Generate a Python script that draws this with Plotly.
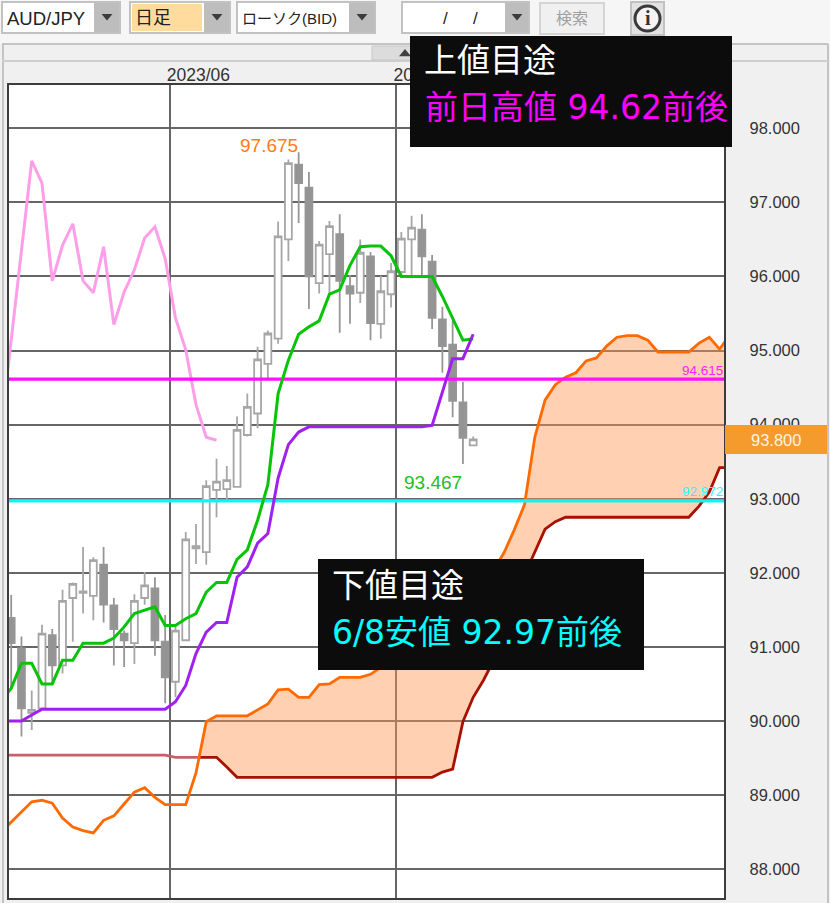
import plotly.graph_objects as go

W, H = 830, 903

# ---------- data ----------
candle_idx = list(range(0, 46))
opens = [91.39,90.98,90.11,90.17,91.16,90.75,91.66,91.73,91.69,92.11,91.56,91.18,91.05,91.66,91.79,91.07,90.53,91.09,92.33,92.28,93.12,93.13,93.16,
         93.86,94.15,94.82,95.16,96.50,97.51,97.20,95.91,96.30,96.57,95.87,95.78,96.27,95.36,95.76,96.06,96.50,96.63,96.20,95.42,95.08,94.30,93.72]
highs = [91.70,91.14,90.41,91.30,91.24,91.77,91.87,92.35,92.21,92.35,91.66,91.22,91.71,92.01,91.94,91.43,91.31,92.55,92.66,93.25,93.54,93.44,94.11,
         94.42,95.05,95.27,96.74,97.58,97.675,97.41,96.48,96.75,96.84,96.02,96.50,96.33,96.01,96.18,96.60,96.82,96.84,96.29,95.59,95.41,94.58,93.84]
lows = [90.42,89.79,89.88,90.15,90.50,90.64,91.07,91.45,91.36,91.33,90.75,90.73,90.77,91.57,90.88,90.24,90.32,91.09,92.12,92.11,92.75,92.98,93.15,
        93.84,93.95,94.60,95.09,96.21,96.72,95.56,95.77,95.76,95.24,95.36,95.64,95.14,95.16,95.58,96.00,96.02,96.00,95.29,94.70,94.10,93.467,93.71]
closes = [91.05,90.17,90.15,91.18,90.75,91.62,91.85,91.75,92.17,91.57,91.24,91.09,91.62,91.83,91.09,90.59,91.22,92.45,92.36,93.17,93.23,93.25,93.93,
          94.24,94.88,95.23,96.54,97.53,97.26,96.00,96.43,96.68,95.94,95.77,96.32,95.37,95.80,96.07,96.51,96.66,96.27,95.44,95.06,94.32,93.82,93.80]

conversion_idx = list(range(-1, 46))
conversion = [90.28,90.44,90.78,90.78,90.50,90.50,90.82,90.82,91.05,91.05,91.05,91.12,91.27,91.45,91.49,91.54,91.29,91.29,91.38,91.45,91.74,91.87,91.87,
              92.18,92.31,92.71,93.19,94.42,94.87,95.22,95.32,95.40,95.76,95.82,96.15,96.40,96.41,96.41,96.28,96.00,96.00,96.00,96.00,95.73,95.43,95.14,95.16]
base = [90.00,90.00,90.00,90.08,90.16,90.16,90.16,90.16,90.16,90.16,90.16,90.16,90.16,90.16,90.16,90.16,90.16,90.26,90.48,90.91,91.20,91.33,91.33,
        91.94,92.08,92.40,92.53,93.28,93.73,93.90,93.97,93.97,93.97,93.97,93.97,93.97,93.97,93.97,93.97,93.97,93.97,93.97,93.99,94.44,94.89,94.89,95.22]

lag_idx = list(range(-1, 21))
lag = [93.93,95.12,96.33,97.56,97.26,95.94,96.42,96.71,95.94,95.78,96.40,95.35,95.79,96.09,96.52,96.67,96.24,95.44,95.01,94.27,93.83,93.79]

span_idx = list(range(-1, 71))
span_a = [88.50,88.64,88.77,88.91,88.93,88.89,88.69,88.57,88.52,88.49,88.66,88.72,88.88,89.04,89.10,88.97,88.87,88.87,88.87,89.30,89.99,90.07,90.07,90.07,90.07,
          90.15,90.23,90.42,90.43,90.32,90.32,90.49,90.50,90.59,90.59,90.59,90.63,90.72,90.82,90.89,90.96,91.09,91.23,91.36,91.50,91.63,91.77,91.90,92.04,
          92.27,92.58,92.92,93.83,94.33,94.54,94.64,94.70,94.86,94.90,95.06,95.18,95.20,95.20,95.14,94.98,94.98,94.98,94.98,95.10,95.18,95.02,95.21]
span_b = [89.54]*17 + [89.51]*5 + [89.38] + [89.24]*20 + [89.31,89.35,89.99,90.32,90.55,90.82,91.23,91.63,91.97,92.28,92.59,92.69] + [92.75]*13 + [92.90,93.09,93.42,93.42]

resistance = 94.615
support = 92.972
last_price = 93.800
level_x = [-1, 70]
month_pos = [15.43, 37.52]
month_labels = ["2023/06", "2023/07"]
price_ticks = [88, 89, 90, 91, 92, 93, 94, 95, 96, 97, 98]

assert len(span_a) == len(span_idx) and len(span_b) == len(span_idx)
assert len(conversion) == len(conversion_idx) and len(base) == len(conversion_idx)
assert len(lag) == len(lag_idx)
assert len(opens) == len(highs) == len(lows) == len(closes) == len(candle_idx)

# ---------- page geometry helpers ----------
def px(x):
    return x / W
def py(y):
    return 1 - y / H

shapes, notes = [], []
def rect(x0, y0, x1, y1, fill, line=None, lw=1, layer="below"):
    shapes.append(dict(type="rect", xref="paper", yref="paper", x0=px(x0), x1=px(x1), y0=py(y0), y1=py(y1),
                       fillcolor=fill, line=dict(color=line or fill, width=lw if line else 0), layer=layer))
def seg(x0, y0, x1, y1, color, lw=1, layer="below"):
    shapes.append(dict(type="line", xref="paper", yref="paper", x0=px(x0), x1=px(x1), y0=py(y0), y1=py(y1),
                       line=dict(color=color, width=lw), layer=layer))
def tri(cx, cy, s, color, up=False):
    d = -1 if up else 1
    path = f"M {px(cx-s)} {py(cy-d*s*0.55)} L {px(cx+s)} {py(cy-d*s*0.55)} L {px(cx)} {py(cy+d*s*0.65)} Z"
    shapes.append(dict(type="path", xref="paper", yref="paper", path=path, fillcolor=color, line=dict(width=0), layer="below"))
def text(x, y, s, size, color, anchor="left", family="DejaVu Sans, Noto Sans CJK JP"):
    notes.append(dict(xref="paper", yref="paper", x=px(x), y=py(y), text=s, showarrow=False, xanchor=anchor, yanchor="middle",
                      font=dict(size=size, color=color, family=family), borderpad=0, borderwidth=0))

UI = "Liberation Sans, Noto Sans CJK JP"

# toolbar band and panel frame
rect(0, 0, 830, 44, "#f6f6f6")
seg(2, 44, 828, 44, "#c4c4c4", 2)
seg(3, 44, 3, 903, "#c4c4c4", 2)
seg(828, 44, 828, 903, "#c4c4c4", 2)
seg(2, 61, 828, 61, "#cfcfcf", 2)
rect(372, 46, 412, 60, "#dcdcdc", "#c8c8c8", 1)
tri(405, 53, 6, "#404040", up=True)

def combo(x0, x1, btn, label_x, label, size, fill="#ffffff"):
    rect(x0, 2, x1, 33, "#ffffff", "#c2c2c2", 2)
    rect(x0 + 2, 4, btn - 2, 31, fill)
    rect(btn, 3, x1 - 1, 32, "#bdbdbd")
    tri((btn + x1) / 2, 17, 5.5, "#3c3c3c")
    if label:
        text(label_x, 18, label, size, "#222222", family=UI)

combo(2, 120, 94, 7, "AUD/JPY", 18.5, "#ffffff")
combo(130, 230, 204, 135, "日足", 18, "#ffdc9e")
combo(237, 375, 349, 242, "ローソク(BID)", 15)
combo(402, 529, 505, 0, "", 15)
text(445, 18, "/", 17, "#222222", "center", UI)
text(475, 18, "/", 17, "#222222", "center", UI)
shapes.append(dict(type="rect", xref="paper", yref="paper", x0=px(540), x1=px(604), y0=py(3), y1=py(34),
                   fillcolor="#f0f0f0", line=dict(color="#d4d4d4", width=2), layer="below"))
text(572, 18, "検索", 16, "#a0a0a0", "center", UI)
rect(631, 2, 664, 35, "#e2e2e2", "#c2c2c2", 2)
shapes.append(dict(type="circle", xref="paper", yref="paper", x0=px(635), x1=px(660), y0=py(6), y1=py(31),
                   fillcolor="#f4f4f4", line=dict(color="#3a3a3a", width=3), layer="below"))
text(647.5, 18, "<b>i</b>", 20, "#333333", "center", "Liberation Serif")

# current-price tag, drawn over the price axis
rect(725, 425, 827, 454, "#f59a2c", layer="above")
text(776, 440, "93.800", 16.5, "#fff3e0", "center", "Liberation Sans")

# value labels on the chart
text(269, 145, "97.675", 19, "#ff7a20", "center", "Liberation Sans")
text(433, 482, "93.467", 19, "#20c020", "center", "Liberation Sans")
text(723, 370, "94.615", 13.5, "#ff20ff", "right", "Liberation Sans")
text(723, 491, "92.972", 13.5, "#20ffff", "right", "Liberation Sans")

# callout boxes
rect(410, 36, 732, 147, "#0c0c0c", layer="above")
text(424.5, 61, "上値目途", 33, "#ffffff")
text(424.5, 107, "前日高値 94.62前後", 33, "#ff00ff")
rect(318, 559, 644, 670, "#0c0c0c", layer="above")
text(331.5, 585, "下値目途", 33, "#ffffff")
text(331.5, 632, "6/8安値 92.97前後", 33, "#00ffff")

# ---------- traces ----------
fig = go.Figure()

# cloud: filled only where span A runs above span B
cross = next(k for k in range(len(span_idx)) if span_a[k] >= span_b[k])
d0 = span_a[cross - 1] - span_b[cross - 1]
d1 = span_a[cross] - span_b[cross]
xc = span_idx[cross - 1] + (-d0) / (d1 - d0)
yc = span_b[cross - 1] + (span_b[cross] - span_b[cross - 1]) * (-d0) / (d1 - d0)
fig.add_trace(go.Scatter(x=[xc] + span_idx[cross:] + span_idx[cross:][::-1],
                         y=[yc] + span_a[cross:] + span_b[cross:][::-1],
                         mode="lines", fill="toself", fillcolor="rgba(255,150,85,0.45)",
                         line=dict(width=0), hoverinfo="skip"))

fig.add_trace(go.Candlestick(x=candle_idx, open=opens, high=highs, low=lows, close=closes,
                             increasing=dict(line=dict(color="#a6a6a6", width=1.8), fillcolor="#ffffff"),
                             decreasing=dict(line=dict(color="#969696", width=1.8), fillcolor="#949494"),
                             whiskerwidth=0))

fig.add_trace(go.Scatter(x=lag_idx, y=lag, mode="lines", line=dict(color="#ff9ee8", width=3)))
fig.add_trace(go.Scatter(x=span_idx[:cross] + [xc], y=span_b[:cross] + [yc], mode="lines", line=dict(color="#c8606a", width=2.8)))
fig.add_trace(go.Scatter(x=[xc] + span_idx[cross:], y=[yc] + span_b[cross:], mode="lines", line=dict(color="#a81000", width=2.8)))
fig.add_trace(go.Scatter(x=span_idx, y=span_a, mode="lines", line=dict(color="#ff6a00", width=2.8)))
fig.add_trace(go.Scatter(x=level_x, y=[resistance, resistance], mode="lines", line=dict(color="#ff10ff", width=3.2)))
fig.add_trace(go.Scatter(x=level_x, y=[support, support], mode="lines", line=dict(color="#10f4f4", width=3.2)))
fig.add_trace(go.Scatter(x=conversion_idx, y=conversion, mode="lines", line=dict(color="#08c408", width=3)))
fig.add_trace(go.Scatter(x=conversion_idx, y=base, mode="lines", line=dict(color="#a020f0", width=3)))

fig.update_layout(
    width=W, height=H, margin=dict(l=0, r=0, t=0, b=0), autosize=False,
    paper_bgcolor="#f0f0f0", plot_bgcolor="#ffffff", showlegend=False, hovermode=False,
    boxgap=0.18, boxgroupgap=0.18,
    shapes=shapes, annotations=notes,
    xaxis=dict(domain=[px(9), px(724)], range=[-0.214, 69.43], side="top", rangeslider=dict(visible=False),
               tickmode="array", tickvals=month_pos, ticktext=month_labels, ticklabelposition="outside right",
               tickfont=dict(family="Liberation Sans", size=17.5, color="#333333"), ticks="", ticklabelstandoff=-5, ticklabelshift=-4,
               showgrid=True, gridcolor="#666666", gridwidth=1.6, zeroline=False,
               showline=True, mirror=True, linecolor="#3c3c3c", linewidth=2.4),
    yaxis=dict(domain=[py(898), py(85)], range=[87.611, 98.584], side="right",
               tickmode="array", tickvals=price_ticks, tickformat=".3f",
               tickfont=dict(family="Liberation Sans", size=16.5, color="#333333"), ticks="", ticklabelstandoff=20,
               showgrid=True, gridcolor="#666666", gridwidth=1.6, zeroline=False,
               showline=True, mirror=True, linecolor="#3c3c3c", linewidth=2.4),
)

fig.write_html("out.html", config={"displayModeBar": False},
               post_script="document.body.style.margin='0';document.documentElement.style.overflow='hidden';")
